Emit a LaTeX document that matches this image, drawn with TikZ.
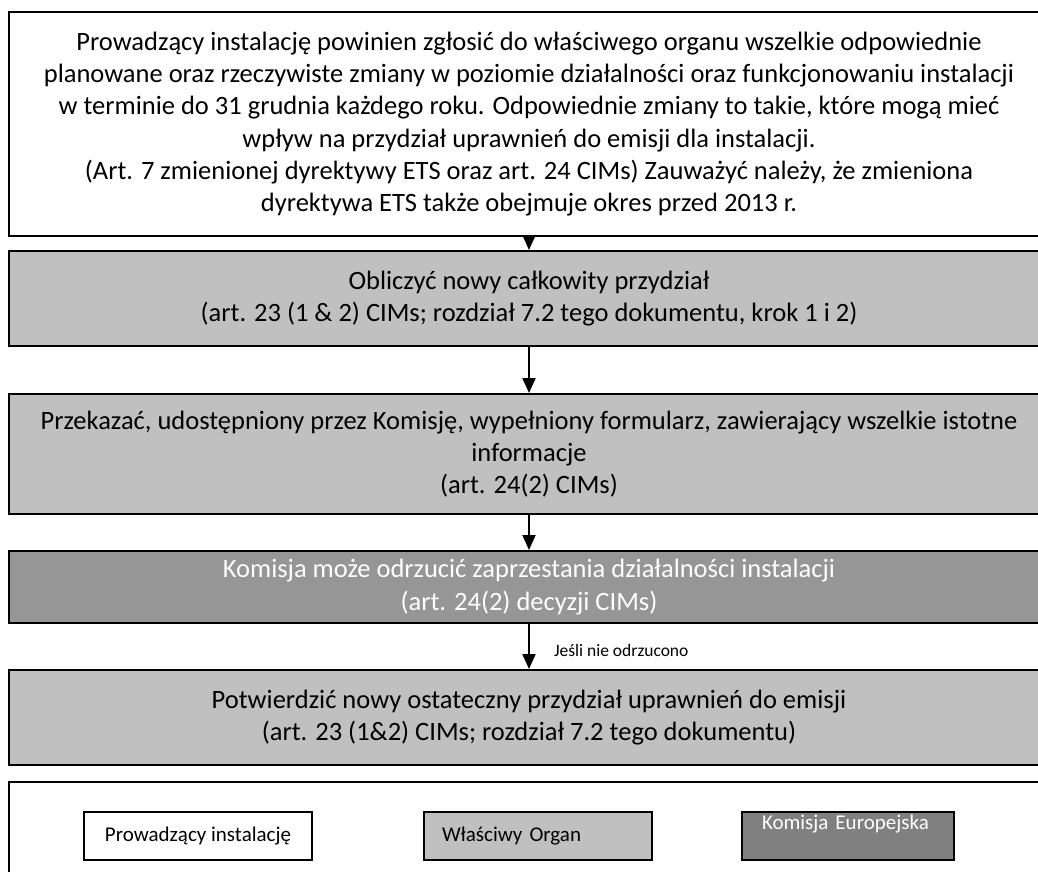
\documentclass[tikz,border=0pt]{standalone}
\usepackage{fontspec}
\setmainfont{Carlito}
\usetikzlibrary{arrows.meta}
\definecolor{lgray}{RGB}{192,192,192}
\definecolor{mgray}{RGB}{150,150,150}
\definecolor{dgray}{RGB}{128,128,128}
\begin{document}
\begin{tikzpicture}[x=1pt,y=-1pt,
  flowbox/.style={draw=black, line width=2pt, minimum width=1040pt, inner sep=0pt, align=center, font=\fontsize{26.5}{32.3}\selectfont},
  whitebox/.style={flowbox, fill=white},
  graybox/.style={flowbox, fill=lgray},
  darkbox/.style={flowbox, fill=mgray, text=white},
  legbox/.style={draw=black, line width=1.6pt, minimum width=228pt, minimum height=48pt, inner sep=0pt, font=\fontsize{21}{25}\selectfont},
  arr/.style={line width=2pt, -{Triangle[length=15pt,width=13pt]}},
  lbl/.style={font=\fontsize{17.5}{21}\selectfont, anchor=west, inner sep=0pt}
]
\useasboundingbox (0,0) rectangle (1038,872);
\clip (0,0) rectangle (1038,872);
\fill[white] (0,0) rectangle (1038,872);

\node[whitebox, minimum height=224pt] (top) at (529,124) {Prowadzący instalację powinien zgłosić do właściwego organu wszelkie odpowiednie\\
planowane oraz rzeczywiste zmiany w poziomie działalności oraz funkcjonowaniu instalacji\\
w terminie do 31 grudnia każdego roku. Odpowiednie zmiany to takie, które mogą mieć\\
wpływ na przydział uprawnień do emisji dla instalacji.\\
(Art. 7 zmienionej dyrektywy ETS oraz art. 24 CIMs) Zauważyć należy, że zmieniona\\
dyrektywa ETS także obejmuje okres przed 2013 r.};

\node[graybox, minimum height=95pt] (b1) at (529,298.5) {Obliczyć nowy całkowity przydział\\
(art. 23 (1 \& 2) CIMs; rozdział 7.2 tego dokumentu, krok 1 i 2)};

\node[graybox, minimum height=120pt] (b2) at (529,454) {Przekazać, udostępniony przez Komisję, wypełniony formularz, zawierający wszelkie istotne\\
informacje\\
(art. 24(2) CIMs)};

\node[darkbox, minimum height=72pt] (b3) at (529,587) {Komisja może odrzucić zaprzestania działalności instalacji\\
(art. 24(2) decyzji CIMs)};

\node[graybox, minimum height=95pt] (b4) at (529,717.5) {Potwierdzić nowy ostateczny przydział uprawnień do emisji\\
(art. 23 (1\&2) CIMs; rozdział 7.2 tego dokumentu)};

\node[whitebox, minimum height=118pt] (leg) at (529,841) {};

\draw[arr] (top.south) -- (b1.north);
\draw[arr] (b1.south) -- (b2.north);
\draw[arr] (b2.south) -- (b3.north);
\draw[arr] (b3.south) -- node[lbl, xshift=24pt, yshift=-4pt, pos=0.5] (jl) {Jeśli nie odrzucono} (b4.north);

\node[legbox, fill=white] (l1) at (198,836) {Prowadzący instalację};
\node[legbox, fill=lgray, text width=192pt, align=left] (l2) at (538,836) {Właściwy Organ};
\node[legbox, fill=dgray, text=white, minimum width=212pt, text width=172pt, align=left, anchor=north, text depth=30pt] (l3) at (848,811) {\strut Komisja Europejska};
\end{tikzpicture}
\end{document}
